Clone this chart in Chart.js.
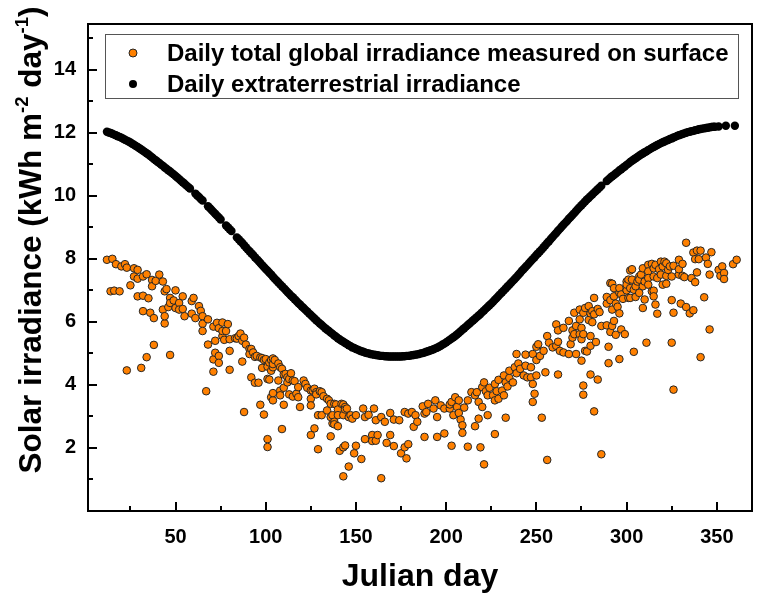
<!DOCTYPE html>
<html><head><meta charset="utf-8">
<script src="https://cdn.jsdelivr.net/npm/chart.js@4/dist/chart.umd.min.js"></script>
<style>html,body{margin:0;padding:0;background:#fff;}canvas{display:block;}</style>
</head><body>
<canvas id="c" width="757" height="593"></canvas>
<script>
// ---- data ----
const seriesLabels = ['Daily total global irradiance measured on surface', 'Daily extraterrestrial irradiance'];
const xTitle = 'Julian day';
const yTitleParts = [['Solar irradiance (kWh m', false], ['-2', true], [' day', false], ['-1', true], [')', false]];
const xTickValues = [50, 100, 150, 200, 250, 300, 350];
const yTickValues = [2, 4, 6, 8, 10, 12, 14];
const xMinorTicks = [25, 75, 125, 175, 225, 275, 325];
const yMinorTicks = [1, 3, 5, 7, 9, 11, 13, 15];

// [Julian day, kWh m-2 day-1]
const surfacePoints = [
[12,7.97],[14,6.97],[15,8.00],[16,6.99],[17,7.83],[19,6.97],[20,7.76],[22,7.83],[23,7.72],[23,4.46],[25,7.16],[27,7.70],[27,7.44],[29,7.37],[29,7.65],[29,6.81],[31,4.54],[32,7.44],[32,6.83],[32,6.34],[34,7.51],[34,4.88],[35,6.75],[36,6.29],[37,7.33],[37,7.13],[38,6.12],[38,5.27],[39,7.30],[41,7.50],[43,7.28],[43,6.39],[44,6.97],[44,5.95],[44,6.18],[45,7.04],[46,6.47],[47,6.76],[47,6.60],[47,4.95],[49,6.68],[50,7.00],[50,6.44],[52,6.60],[52,6.39],[54,6.81],[54,6.41],[55,6.18],[59,6.66],[59,6.26],[60,6.76],[61,6.12],[63,6.50],[64,6.35],[65,6.18],[65,5.94],[65,5.71],[67,3.80],[68,6.08],[68,5.28],[71,5.85],[71,4.81],[71,4.42],[72,5.40],[72,5.02],[73,5.97],[74,4.92],[74,4.70],[74,5.80],[76,5.98],[76,5.55],[76,5.71],[77,5.43],[78,5.71],[79,5.93],[80,5.45],[80,5.08],[80,4.48],[83,5.48],[84,5.47],[85,5.55],[86,5.63],[87,5.40],[87,4.74],[88,5.50],[88,3.14],[89,5.28],[91,5.14],[91,4.98],[92,5.14],[92,4.24],[93,5.03],[94,4.07],[94,4.89],[95,4.92],[96,4.07],[97,4.87],[97,3.37],[98,4.85],[98,4.54],[99,4.79],[99,3.06],[100,4.82],[101,4.58],[101,4.19],[101,2.28],[101,2.03],[102,4.71],[102,4.17],[103,4.79],[103,4.45],[103,3.61],[104,4.56],[104,4.84],[104,3.51],[104,3.74],[104,4.66],[105,4.79],[107,4.68],[107,4.14],[108,4.56],[108,3.82],[108,3.67],[109,2.60],[109,4.51],[110,4.33],[110,3.91],[110,3.37],[111,4.35],[112,4.24],[112,4.08],[113,4.19],[113,3.70],[114,4.37],[115,4.14],[115,3.63],[116,4.12],[117,3.72],[118,3.93],[118,3.61],[119,3.30],[121,4.14],[122,4.03],[123,3.91],[125,3.82],[125,3.56],[125,3.35],[125,2.41],[126,3.82],[127,3.88],[127,2.62],[128,3.77],[128,3.70],[129,3.04],[129,1.96],[130,3.80],[131,3.77],[131,3.04],[132,3.64],[134,3.56],[134,3.19],[135,3.51],[136,2.98],[136,3.40],[136,2.37],[137,3.04],[137,2.78],[138,3.40],[138,2.83],[138,2.75],[139,3.38],[140,3.22],[140,3.04],[140,2.69],[141,1.91],[142,3.40],[143,3.04],[143,3.38],[143,2.02],[143,1.10],[144,3.30],[144,3.22],[144,2.08],[145,3.25],[146,2.98],[146,1.41],[147,3.04],[148,2.93],[149,1.83],[150,3.04],[150,2.07],[153,1.65],[154,3.25],[155,2.98],[155,2.28],[157,3.05],[159,2.41],[159,2.22],[160,3.25],[161,2.88],[161,2.23],[162,2.41],[164,2.98],[164,1.04],[166,2.83],[167,2.16],[169,3.11],[169,2.41],[171,2.90],[171,2.06],[174,2.88],[175,1.83],[177,3.14],[177,2.02],[178,1.67],[179,3.09],[179,2.12],[181,3.14],[182,2.67],[183,3.04],[184,2.83],[187,3.32],[188,3.09],[188,2.35],[189,3.14],[190,3.40],[193,3.25],[194,3.51],[195,2.98],[195,2.35],[197,3.35],[199,3.25],[199,2.46],[202,3.25],[202,3.38],[203,3.46],[203,2.07],[204,3.04],[205,3.61],[206,3.30],[207,3.51],[207,3.11],[208,2.90],[209,2.72],[209,2.48],[210,3.28],[212,3.51],[212,2.04],[214,3.77],[216,3.67],[216,2.69],[217,3.77],[218,3.46],[218,2.93],[219,2.02],[220,3.93],[220,3.30],[221,4.08],[221,1.48],[222,3.80],[223,3.67],[223,3.04],[224,3.91],[226,3.67],[227,3.51],[227,4.03],[227,2.44],[228,3.80],[229,3.56],[229,4.16],[231,3.82],[232,3.67],[232,4.30],[233,4.08],[233,2.96],[234,3.95],[235,4.22],[235,4.45],[237,4.08],[238,4.56],[239,4.37],[239,4.98],[240,4.68],[241,4.51],[243,4.30],[244,4.61],[244,4.96],[245,4.24],[247,4.56],[247,4.24],[248,4.98],[248,4.03],[248,3.46],[249,3.72],[250,4.79],[250,5.21],[250,4.30],[251,5.29],[252,4.92],[253,2.96],[254,5.08],[255,4.40],[256,5.55],[256,1.62],[257,5.34],[259,5.19],[261,5.24],[261,5.92],[262,5.37],[262,5.73],[262,4.33],[263,5.08],[265,5.03],[265,5.81],[268,4.98],[268,6.03],[269,5.29],[270,5.50],[270,5.73],[271,5.61],[271,6.29],[272,5.87],[272,4.98],[274,6.08],[274,6.39],[274,5.61],[275,5.81],[275,4.77],[275,5.45],[276,5.61],[276,3.98],[276,3.69],[276,6.29],[277,5.08],[277,6.44],[278,5.06],[279,6.50],[279,6.06],[280,6.27],[280,5.55],[280,5.24],[280,4.33],[281,6.34],[281,5.99],[282,6.76],[282,6.24],[282,3.16],[283,5.36],[284,6.41],[284,4.17],[285,6.31],[286,5.87],[286,1.80],[289,6.58],[289,6.79],[289,5.89],[290,5.21],[290,4.69],[291,6.69],[291,7.23],[291,5.68],[292,6.39],[292,5.87],[292,7.21],[293,6.81],[293,6.03],[293,7.07],[294,5.59],[294,6.58],[295,6.48],[296,6.92],[296,6.27],[296,7.07],[296,4.82],[297,6.87],[297,5.76],[298,6.73],[299,5.61],[300,7.28],[300,7.00],[300,7.18],[301,7.34],[301,6.76],[302,7.07],[302,6.76],[302,7.63],[303,7.67],[303,7.34],[304,7.02],[304,5.05],[305,7.13],[305,6.79],[306,7.28],[307,7.44],[307,6.92],[307,7.34],[308,7.50],[309,7.70],[309,7.13],[309,6.44],[310,6.71],[310,7.28],[311,5.34],[312,7.81],[312,7.60],[312,7.39],[312,7.18],[314,7.84],[314,6.97],[315,7.70],[315,7.44],[315,6.99],[315,6.81],[316,6.55],[316,7.81],[317,6.26],[317,7.39],[318,7.67],[319,7.91],[319,7.50],[320,7.76],[320,7.18],[321,7.91],[322,7.86],[322,7.21],[322,7.46],[323,7.65],[324,7.76],[325,7.44],[325,6.69],[325,5.34],[326,6.29],[326,7.78],[326,3.85],[329,7.97],[329,7.50],[329,7.67],[330,6.58],[331,7.84],[331,7.46],[332,7.42],[333,8.51],[333,6.47],[335,6.27],[336,7.39],[337,8.20],[337,6.37],[338,7.99],[338,7.26],[339,8.26],[339,7.57],[340,7.99],[341,8.26],[341,4.88],[343,6.78],[344,8.04],[345,7.84],[346,7.50],[346,5.76],[347,8.21],[351,7.65],[352,7.46],[353,7.76],[354,7.55],[354,7.36],[359,7.83],[361,7.97]
];

// [Julian day, kWh m-2 day-1]
const extraPoints = [
[12,12.03],[13,12.01],[14,11.99],[15,11.97],[16,11.94],[17,11.92],[18,11.89],[19,11.87],[20,11.84],[21,11.81],[22,11.78],[23,11.75],[24,11.72],[25,11.69],[26,11.65],[27,11.62],[28,11.58],[29,11.55],[30,11.51],[31,11.47],[32,11.43],[33,11.39],[34,11.35],[35,11.31],[36,11.26],[37,11.22],[38,11.17],[39,11.13],[40,11.08],[41,11.04],[42,10.99],[43,10.95],[44,10.90],[45,10.86],[46,10.81],[47,10.77],[48,10.72],[49,10.68],[50,10.63],[51,10.58],[52,10.53],[53,10.48],[54,10.43],[55,10.38],[56,10.33],[57,10.28],[58,10.23],[61,10.07],[62,10.01],[63,9.96],[64,9.90],[65,9.85],[68,9.67],[69,9.61],[70,9.55],[71,9.49],[72,9.43],[73,9.37],[74,9.31],[75,9.25],[78,9.06],[79,9.00],[80,8.94],[81,8.88],[84,8.68],[85,8.62],[86,8.56],[87,8.50],[88,8.43],[89,8.37],[90,8.30],[91,8.24],[92,8.18],[93,8.12],[94,8.05],[95,7.99],[96,7.93],[97,7.87],[98,7.80],[99,7.74],[100,7.68],[101,7.62],[102,7.56],[103,7.50],[104,7.43],[105,7.37],[106,7.31],[107,7.25],[108,7.19],[109,7.13],[110,7.07],[111,7.01],[112,6.95],[113,6.89],[114,6.83],[115,6.78],[116,6.72],[117,6.66],[118,6.60],[119,6.55],[120,6.49],[121,6.44],[122,6.38],[123,6.33],[124,6.27],[125,6.22],[126,6.16],[127,6.11],[128,6.05],[129,6.00],[130,5.95],[131,5.90],[132,5.85],[133,5.80],[134,5.75],[135,5.71],[136,5.66],[137,5.62],[138,5.57],[139,5.53],[140,5.48],[141,5.44],[142,5.40],[143,5.37],[144,5.33],[145,5.30],[146,5.26],[147,5.23],[148,5.19],[149,5.17],[150,5.14],[151,5.12],[152,5.09],[153,5.07],[154,5.05],[155,5.03],[156,5.01],[157,5.00],[158,4.98],[159,4.97],[160,4.96],[161,4.95],[162,4.94],[163,4.93],[164,4.92],[165,4.92],[166,4.91],[167,4.91],[168,4.90],[169,4.90],[170,4.90],[171,4.90],[172,4.90],[173,4.90],[174,4.90],[175,4.90],[176,4.91],[177,4.91],[178,4.92],[179,4.92],[180,4.93],[181,4.94],[182,4.95],[183,4.96],[184,4.97],[185,4.98],[186,5.00],[187,5.01],[188,5.03],[189,5.05],[190,5.07],[191,5.09],[192,5.11],[193,5.13],[194,5.16],[195,5.18],[196,5.21],[197,5.24],[198,5.28],[199,5.31],[200,5.35],[201,5.39],[202,5.43],[203,5.47],[204,5.51],[205,5.55],[206,5.60],[207,5.65],[208,5.70],[209,5.75],[210,5.80],[211,5.85],[212,5.90],[213,5.95],[214,6.00],[215,6.05],[216,6.10],[217,6.15],[218,6.20],[219,6.25],[220,6.31],[221,6.36],[222,6.42],[223,6.47],[224,6.53],[225,6.58],[226,6.64],[227,6.70],[228,6.76],[229,6.82],[230,6.88],[231,6.94],[232,7.00],[233,7.06],[234,7.12],[235,7.18],[236,7.24],[237,7.30],[238,7.36],[239,7.42],[240,7.49],[241,7.55],[242,7.62],[243,7.68],[244,7.74],[245,7.80],[246,7.87],[247,7.93],[248,7.99],[249,8.05],[250,8.12],[251,8.18],[252,8.24],[253,8.30],[254,8.37],[255,8.43],[256,8.50],[257,8.56],[258,8.63],[259,8.69],[260,8.76],[261,8.82],[262,8.89],[263,8.95],[264,9.02],[265,9.08],[266,9.14],[267,9.20],[268,9.27],[269,9.33],[270,9.39],[271,9.45],[272,9.52],[273,9.58],[274,9.64],[275,9.70],[276,9.76],[277,9.82],[278,9.88],[279,9.93],[280,9.99],[281,10.04],[282,10.10],[283,10.15],[284,10.21],[285,10.26],[286,10.32],[289,10.47],[290,10.52],[291,10.57],[292,10.62],[293,10.66],[294,10.71],[295,10.75],[296,10.80],[297,10.84],[298,10.89],[299,10.93],[300,10.98],[301,11.02],[302,11.07],[303,11.11],[304,11.15],[305,11.19],[306,11.23],[307,11.27],[308,11.31],[309,11.34],[310,11.38],[311,11.41],[312,11.45],[313,11.48],[314,11.52],[315,11.55],[316,11.58],[317,11.61],[318,11.64],[319,11.67],[320,11.70],[321,11.72],[322,11.75],[323,11.77],[324,11.80],[325,11.82],[326,11.85],[327,11.87],[328,11.90],[329,11.92],[330,11.94],[331,11.96],[332,11.98],[333,12.00],[334,12.02],[335,12.03],[336,12.05],[337,12.06],[338,12.08],[339,12.09],[340,12.11],[341,12.12],[342,12.13],[343,12.14],[344,12.15],[345,12.16],[346,12.17],[347,12.18],[348,12.19],[349,12.19],[351,12.20],[355,12.22],[360,12.22]
];

// ---- rendering ----
const FONT = "'Liberation Sans', Arial, Helvetica, sans-serif";

const framePlugin = {
  id: 'frameTicks',
  afterDatasetsDraw(chart) {
    const {ctx, chartArea: a, scales: {x, y}} = chart;
    ctx.save();
    ctx.strokeStyle = '#000';
    ctx.lineWidth = 2;
    ctx.strokeRect(a.left, a.top, a.right - a.left, a.bottom - a.top);
    ctx.beginPath();
    xTickValues.forEach(v => { const p = Math.round(x.getPixelForValue(v)); ctx.moveTo(p, a.bottom); ctx.lineTo(p, a.bottom - 9); });
    xMinorTicks.forEach(v => { const p = Math.round(x.getPixelForValue(v)); ctx.moveTo(p, a.bottom); ctx.lineTo(p, a.bottom - 5); });
    yTickValues.forEach(v => { const p = Math.round(y.getPixelForValue(v)); ctx.moveTo(a.left, p); ctx.lineTo(a.left + 9, p); });
    yMinorTicks.forEach(v => { const p = Math.round(y.getPixelForValue(v)); ctx.moveTo(a.left, p); ctx.lineTo(a.left + 5, p); });
    ctx.stroke();
    ctx.restore();
  }
};

const legendPlugin = {
  id: 'insetLegend',
  afterDraw(chart) {
    const ctx = chart.ctx;
    ctx.save();
    ctx.strokeStyle = '#555';
    ctx.lineWidth = 1;
    ctx.strokeRect(105.5, 34.5, 633, 64);
    ctx.font = 'bold 24px ' + FONT;
    ctx.textBaseline = 'middle';
    ctx.textAlign = 'left';
    const rows = [53, 84];
    chart.data.datasets.forEach((ds, i) => {
      ctx.beginPath();
      ctx.arc(133, rows[i], 4, 0, Math.PI * 2);
      ctx.fillStyle = ds.pointBackgroundColor;
      ctx.fill();
      if (ds.pointBorderWidth > 0) {
        ctx.lineWidth = 1;
        ctx.strokeStyle = ds.pointBorderColor;
        ctx.stroke();
      }
      ctx.fillStyle = '#000';
      ctx.fillText(ds.label, 167, rows[i] + 1);
    });
    ctx.restore();
  }
};

const yTitlePlugin = {
  id: 'yTitle',
  afterDraw(chart) {
    const ctx = chart.ctx;
    const big = 'bold 31.5px ' + FONT, small = 'bold 18.5px ' + FONT;
    ctx.save();
    let total = 0;
    yTitleParts.forEach(([t, sup]) => { ctx.font = sup ? small : big; total += ctx.measureText(t).width; });
    ctx.translate(40.5, 240);
    ctx.rotate(-Math.PI / 2);
    ctx.fillStyle = '#000';
    ctx.textBaseline = 'alphabetic';
    ctx.textAlign = 'left';
    let pos = -total / 2;
    yTitleParts.forEach(([t, sup]) => {
      ctx.font = sup ? small : big;
      ctx.fillText(t, pos, sup ? -13 : 0);
      pos += ctx.measureText(t).width;
    });
    ctx.restore();
  }
};

new Chart(document.getElementById('c'), {
  type: 'scatter',
  data: {
    datasets: [
      {
        label: seriesLabels[0],
        data: surfacePoints.map(([d, v]) => ({x: d, y: v})),
        pointBackgroundColor: '#FF8000',
        pointBorderColor: '#262626',
        pointBorderWidth: 1,
        pointRadius: 3.8
      },
      {
        label: seriesLabels[1],
        data: extraPoints.map(([d, v]) => ({x: d, y: v})),
        pointBackgroundColor: '#000000',
        pointBorderColor: '#000000',
        pointBorderWidth: 0,
        pointRadius: 4.2
      }
    ]
  },
  options: {
    responsive: false,
    animation: false,
    devicePixelRatio: 1,
    layout: {padding: {top: 20, right: 1, left: 0, bottom: 0}},
    plugins: {legend: {display: false}, tooltip: {enabled: false}},
    scales: {
      x: {
        type: 'linear', min: 1.5, max: 369.5,
        afterBuildTicks: s => { s.ticks = xTickValues.map(v => ({value: v})); },
        afterFit: s => { s.height = 82; },
        grid: {display: false, drawTicks: false},
        border: {display: false},
        ticks: {font: {family: FONT, size: 20, weight: 'bold'}, color: '#000', padding: 14, maxRotation: 0, autoSkip: false},
        title: {display: true, text: xTitle, color: '#000', font: {family: FONT, size: 32, weight: 'bold', lineHeight: 1}, padding: {top: 0, bottom: 0}}
      },
      y: {
        type: 'linear', min: 0, max: 15.45,
        afterBuildTicks: s => { s.ticks = yTickValues.map(v => ({value: v})); },
        afterFit: s => { s.width = 88; },
        grid: {display: false, drawTicks: false},
        border: {display: false},
        ticks: {font: {family: FONT, size: 20, weight: 'bold'}, color: '#000', padding: 12, autoSkip: false},
        title: {display: false}
      }
    }
  },
  plugins: [framePlugin, legendPlugin, yTitlePlugin]
});
</script>
</body></html>
